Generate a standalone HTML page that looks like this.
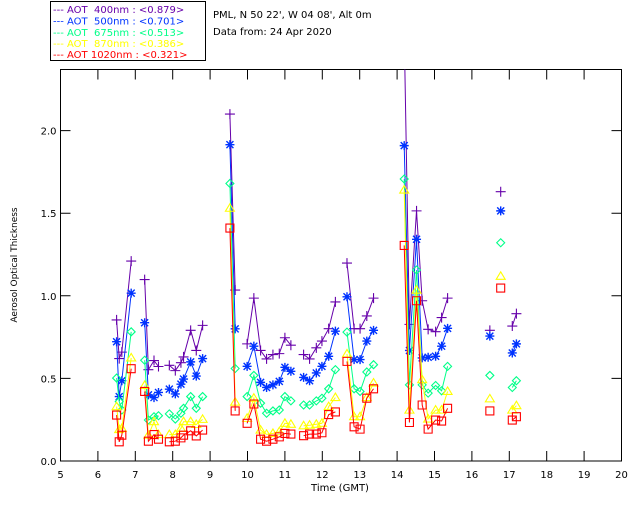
<!DOCTYPE html>
<html><head><meta charset="utf-8"><style>
body{margin:0;background:#fff;}
svg{display:block;font-family:"DejaVu Sans","Liberation Sans",sans-serif;}
</style></head><body>
<svg id="chart" width="640" height="512" viewBox="0 0 640 512">
<rect width="640" height="512" fill="#fff"/>
<g>
<rect x="50.5" y="1.5" width="155" height="59" fill="#fff" stroke="#000"/>
<g font-size="10">
<text x="53" y="13" fill="#6600aa" xml:space="preserve">--- AOT  400nm : &lt;0.879&gt;</text>
<text x="53" y="24.5" fill="#0033ff" xml:space="preserve">--- AOT  500nm : &lt;0.701&gt;</text>
<text x="53" y="36" fill="#00ff88" xml:space="preserve">--- AOT  675nm : &lt;0.513&gt;</text>
<text x="53" y="47" fill="#ffff00" xml:space="preserve">--- AOT  870nm : &lt;0.386&gt;</text>
<text x="53" y="58" fill="#ff0000" xml:space="preserve">--- AOT 1020nm : &lt;0.321&gt;</text>
</g></g>
<text x="213" y="18" font-size="10" fill="#000">PML, N 50 22', W 04 08', Alt 0m</text>
<text x="213" y="35" font-size="10" fill="#000">Data from: 24 Apr 2020</text>
<text x="340" y="491" font-size="10" text-anchor="middle">Time (GMT)</text>
<text transform="translate(17,265) rotate(-90)" font-size="9" text-anchor="middle">Aerosol Optical Thickness</text>
<g id="axes"></g>
<defs><clipPath id="pc"><rect x="60.5" y="69.5" width="561" height="391.5"/></clipPath></defs>
<g id="series" clip-path="url(#pc)"></g>
</svg>
<script>
const times=[6.50,6.57,6.64,6.89,null,7.25,7.35,7.50,7.62,null,7.91,8.07,8.22,8.29,8.48,8.63,8.80,null,9.53,9.67,null,9.99,10.17,10.35,10.51,10.68,10.85,11.00,11.16,null,11.50,11.66,11.84,11.99,12.17,12.35,null,12.66,12.85,13.01,13.19,13.37,null,14.19,14.33,14.52,14.67,14.83,15.03,15.19,15.35,null,16.48,null,16.77,null,17.08,17.19];
const aot400=[0.854,0.62,0.659,1.21,null,1.098,0.553,0.608,0.572,null,0.579,0.547,0.595,0.630,0.791,0.669,0.821,null,2.10,1.035,null,0.709,0.986,0.669,0.618,0.644,0.650,0.746,0.701,null,0.644,0.618,0.685,0.726,0.801,0.963,null,1.198,0.801,0.801,0.878,0.986,null,2.6,0.827,1.514,0.970,0.797,0.783,0.868,0.986,null,0.791,null,1.630,null,0.817,0.892];
const aot500=[0.722,0.390,0.486,1.016,null,0.837,0.400,0.384,0.415,null,0.435,0.406,0.465,0.496,0.600,0.514,0.620,null,1.915,0.80,null,0.573,0.695,0.476,0.445,0.461,0.482,0.567,0.543,null,0.506,0.486,0.533,0.573,0.634,0.786,null,0.994,0.614,0.614,0.726,0.791,null,1.909,0.669,1.342,0.624,0.628,0.634,0.695,0.803,null,0.756,null,1.514,null,0.654,0.709];
const aot675=[0.502,0.36,0.309,0.782,null,0.610,0.248,0.268,0.274,null,0.285,0.254,0.289,0.319,0.390,0.319,0.390,null,1.68,0.56,null,0.390,0.518,0.350,0.289,0.303,0.309,0.390,0.364,null,0.339,0.339,0.364,0.380,0.437,0.553,null,0.780,0.437,0.421,0.539,0.583,null,1.707,0.461,1.156,0.461,0.411,0.457,0.425,0.573,null,0.518,null,1.321,null,0.445,0.486];
const aot870=[0.329,0.19,0.197,0.624,null,0.457,0.156,0.238,0.160,null,0.160,0.160,0.197,0.238,0.238,0.221,0.252,null,1.53,0.356,null,0.258,0.380,0.187,0.161,0.167,0.177,0.228,0.222,null,0.213,0.217,0.222,0.228,0.329,0.384,null,0.648,0.268,0.268,0.384,0.472,null,1.640,0.308,1.034,0.492,0.254,0.308,0.308,0.421,null,0.376,null,1.118,null,0.308,0.335];
const aot1020=[0.278,0.116,0.156,0.559,null,0.421,0.120,0.160,0.132,null,0.116,0.120,0.140,0.156,0.183,0.152,0.187,null,1.41,0.303,null,0.228,0.345,0.132,0.120,0.132,0.146,0.167,0.163,null,0.153,0.163,0.163,0.171,0.281,0.297,null,0.603,0.207,0.193,0.380,0.437,null,1.305,0.233,0.970,0.339,0.193,0.248,0.242,0.319,null,0.303,null,1.047,null,0.248,0.268];
const xTicks=[5,6,7,8,9,10,11,12,13,14,15,16,17,18,19,20];
const yTicks=[0,0.5,1.0,1.5,2.0];
const yTickLabels=["0.0","0.5","1.0","1.5","2.0"];

const NS="http://www.w3.org/2000/svg";
const X0=60.5,X1=621.5,Y0=461,Y1=69.5;
function xs(h){return X0+(h-5)*(X1-X0)/15;}
function ys(v){return Y0-v*165.2;}
function mk(tag,attrs,parent){const e=document.createElementNS(NS,tag);for(const k in attrs)e.setAttribute(k,attrs[k]);parent.appendChild(e);return e;}

const ax=document.getElementById('axes');
const frame=mk('rect',{x:X0,y:Y1,width:X1-X0,height:Y0-Y1,fill:'none',stroke:'#000','stroke-width':1},ax);


xTicks.forEach(t=>{
  const x=xs(t);
  const tk=mk('path',{d:`M${x},${Y0}V${Y0-10}M${x},${Y1}V${Y1+10}`,stroke:'#000'},ax);
  
  
  const lb=mk('text',{x:x,y:Y0+17,'font-size':10,'text-anchor':'middle'},ax);
  lb.textContent=String(t);
  
  
});
yTicks.forEach((t,i)=>{
  const y=ys(t);
  const tk=mk('path',{d:`M${X0},${y}H${X0+10}M${X1},${y}H${X1-10}`,stroke:'#000'},ax);
  
  
  const lb=mk('text',{x:X0-4,y:y+4,'font-size':10,'text-anchor':'end'},ax);
  lb.textContent=yTickLabels[i];
  
  
});

const sg=document.getElementById('series');
const defs=[[aot400,'#6600aa','plus','400'],[aot500,'#0033ff','star','500'],[aot675,'#00ff88','diamond','675'],[aot870,'#ffff00','tri','870'],[aot1020,'#ff0000','square','1020']];
defs.forEach(([vals,col,shape,nm])=>{
  const g=mk('g',{},sg);
  
  
  let d='';let pen=false;
  times.forEach((t,i)=>{
    if(t===null||vals[i]===null){pen=false;return;}
    d+=(pen?'L':'M')+xs(t).toFixed(1)+','+ys(vals[i]).toFixed(1);pen=true;
  });
  const ln=mk('path',{d:d,fill:'none',stroke:col,'stroke-width':1},g);
  
  
  times.forEach((t,i)=>{
    if(t===null||vals[i]===null)return;
    const x=xs(t),y=ys(vals[i]);let p;
    if(shape==='plus')p=`M${x-5},${y}H${x+5}M${x},${y-5}V${y+5}`;
    else if(shape==='star')p=`M${x-4.5},${y}H${x+4.5}M${x},${y-4.5}V${y+4.5}M${x-3.5},${y-3.5}L${x+3.5},${y+3.5}M${x-3.5},${y+3.5}L${x+3.5},${y-3.5}`;
    else if(shape==='diamond')p=`M${x},${y-4}L${x+4},${y}L${x},${y+4}L${x-4},${y}Z`;
    else if(shape==='tri')p=`M${x},${y-4.5}L${x+4.5},${y+3}L${x-4.5},${y+3}Z`;
    else p=`M${x-4},${y-4}H${x+4}V${y+4}H${x-4}Z`;
    const m=mk('path',{d:p,fill:'none',stroke:col,'stroke-width':shape==='star'?1.4:1.1},g);
    
    
  });
});
</script>
</body></html>
